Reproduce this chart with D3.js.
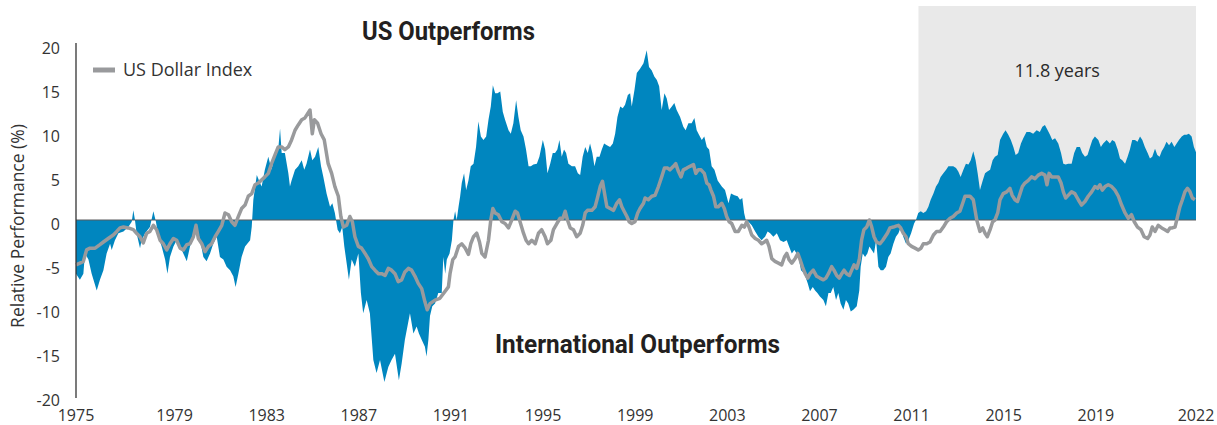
<!DOCTYPE html>
<html>
<head>
<meta charset="utf-8">
<script src="https://cdn.jsdelivr.net/npm/d3@7"></script>
<style>
  body { margin: 0; background: #fff; }
  svg { display: block; }
</style>
</head>
<body>
<svg id="chart" width="1217" height="425"></svg>
<script>
// ---- data ----
const yTicks = [-20, -15, -10, -5, 0, 5, 10, 15, 20];
const xTickYears = [1979, 1983, 1987, 1991, 1995, 1999, 2003, 2007, 2011, 2015, 2019];
const xEndLabels = ["1975", "2022"];

// US vs international relative performance (%), [year, value]
const relPerf = [
  [1974.72,-6.1],[1974.89,-6.8],[1975.04,-6.1],[1975.11,-3.8],[1975.26,-4.5],[1975.40,-6.1],[1975.62,-8.0],[1975.76,-6.8],[1975.91,-5.7],[1976.05,-3.8],
  [1976.20,-2.7],[1976.27,-3.4],[1976.41,-2.3],[1976.56,-1.5],[1976.78,-1.3],[1976.99,-0.8],[1977.14,-0.2],[1977.21,1.1],[1977.28,0],[1977.35,-1.5],
  [1977.50,-3.2],[1977.57,-2.3],[1977.72,-1.5],[1977.93,-0.8],[1978.08,1.0],[1978.19,-0.2],[1978.30,-1.9],[1978.44,-3.0],[1978.59,-4.5],[1978.69,-6.1],
  [1978.80,-4.2],[1978.95,-3.0],[1979.09,-2.3],[1979.24,-3.0],[1979.38,-3.8],[1979.53,-4.7],[1979.67,-3.0],[1979.82,-1.9],[1979.96,-0.8],[1980.11,-2.3],
  [1980.25,-4.2],[1980.39,-4.7],[1980.54,-3.8],[1980.68,-2.7],[1980.83,-1.9],[1980.97,-4.2],[1981.12,-4.5],[1981.26,-5.3],[1981.41,-5.7],[1981.55,-6.4],
  [1981.65,-7.6],[1981.77,-6.1],[1981.91,-4.2],[1982.06,-3.0],[1982.28,-2.3],[1982.35,-0.8],[1982.42,2.3],[1982.57,5.1],[1982.71,4.2],
  [1982.78,3.8],[1982.92,5.7],[1983.07,7.2],[1983.21,5.7],[1983.36,7.6],[1983.50,8.0],[1983.58,10.4],[1983.65,7.6],[1983.79,7.6],[1983.94,5.3],
  [1984.01,3.8],[1984.08,4.5],[1984.23,5.7],[1984.37,6.1],[1984.52,6.8],[1984.63,5.7],[1984.73,6.4],[1984.88,8.0],[1984.98,6.8],[1985.10,7.2],
  [1985.24,8.3],[1985.36,6.1],[1985.46,4.9],[1985.60,3.0],[1985.75,1.5],[1985.85,1.9],[1985.96,0.8],[1986.08,-1.1],[1986.18,-1.5],[1986.28,-0.8],
  [1986.37,-3.0],[1986.47,-4.9],[1986.57,-6.8],[1986.69,-4.5],[1986.83,-5.3],[1986.98,-3.8],[1987.09,-8.3],[1987.19,-10.6],[1987.34,-9.1],[1987.48,-10.6],
  [1987.63,-15.9],[1987.77,-17.4],[1987.92,-15.9],[1988.11,-18.4],[1988.28,-16.7],[1988.42,-15.9],[1988.57,-15.2],[1988.74,-18.2],[1988.86,-16.3],[1989.00,-13.6],
  [1989.22,-10.6],[1989.37,-12.9],[1989.51,-12.1],[1989.61,-12.9],[1989.73,-13.6],[1989.87,-14.4],[1989.94,-15.5],[1990.02,-13.6],[1990.09,-10.9],[1990.19,-9.8],
  [1990.31,-9.5],[1990.45,-8.3],
  [1990.60,-8.3],[1990.67,-4.2],[1990.75,-6.1],[1990.82,-4.5],[1990.94,-3.8],[1991.04,-2.3],[1991.11,0],[1991.18,1.0],[1991.25,0],[1991.33,1.5],
  [1991.40,2.7],[1991.47,4.2],[1991.57,5.3],[1991.66,3.4],[1991.76,4.5],[1991.86,6.1],[1991.98,6.4],[1992.09,8.3],[1992.19,11.2],[1992.30,9.5],
  [1992.41,9.1],[1992.53,9.5],[1992.63,11.4],[1992.73,12.9],[1992.82,15.3],[1992.92,14.4],[1993.02,14.4],[1993.14,14.6],[1993.25,12.3],[1993.35,11.4],
  [1993.50,10.2],[1993.60,9.8],[1993.71,11.0],[1993.83,13.6],[1993.93,11.7],[1994.03,10.2],[1994.15,9.5],[1994.26,8.0],[1994.37,6.1],[1994.47,6.1],
  [1994.58,6.3],[1994.73,6.4],[1994.84,7.2],[1994.99,9.1],[1995.09,8.0],[1995.19,5.3],[1995.31,6.4],[1995.42,7.6],[1995.52,7.6],[1995.62,8.0],
  [1995.71,9.1],[1995.81,7.2],[1995.91,8.0],[1996.00,7.6],[1996.10,6.4],[1996.25,6.1],[1996.39,6.1],[1996.51,5.3],[1996.61,5.1],[1996.72,7.2],
  [1996.83,8.3],[1996.94,7.6],[1997.04,8.7],[1997.14,7.6],[1997.23,6.1],[1997.33,7.2],[1997.45,7.2],[1997.55,8.0],[1997.65,8.7],[1997.77,8.5],
  [1997.91,8.3],[1998.03,8.7],[1998.13,9.8],[1998.23,11.7],[1998.35,12.9],[1998.46,12.7],[1998.56,13.1],[1998.66,14.0],
  [1998.68,14.2],[1998.78,14.4],[1998.85,12.9],[1998.97,14.8],[1999.07,16.7],[1999.21,17.2],[1999.36,17.8],[1999.50,19.3],[1999.60,17.4],[1999.72,17.0],
  [1999.83,16.3],[1999.94,15.9],[2000.04,15.2],[2000.15,12.5],[2000.27,14.4],[2000.37,13.8],[2000.47,12.5],[2000.59,12.9],[2000.70,13.3],[2000.80,12.5],
  [2000.95,11.7],[2001.09,10.6],[2001.19,10.2],[2001.31,11.0],[2001.45,11.0],[2001.57,11.6],[2001.67,10.2],[2001.77,9.7],[2001.89,9.1],[2002.00,9.5],
  [2002.11,8.3],[2002.21,8.0],[2002.32,6.1],[2002.44,5.7],[2002.58,4.5],[2002.76,3.8],[2002.90,3.4],[2003.05,1.9],[2003.16,3.0],[2003.31,2.8],
  [2003.45,2.7],[2003.55,2.3],[2003.65,2.5],[2003.73,0.8],[2003.80,0],[2003.92,-0.2],[2004.06,-0.6],[2004.21,-1.3],[2004.35,-1.9],[2004.49,-2.3],
  [2004.64,-1.9],[2004.75,-1.3],[2004.86,-1.5],[2005.00,-1.9],[2005.15,-1.5],[2005.29,-2.3],[2005.44,-2.5],[2005.58,-2.3],[2005.68,-3.0],[2005.80,-3.8],
  [2005.91,-3.4],[2006.01,-3.8],[2006.09,-4.2],[2006.20,-5.7],[2006.35,-6.1],[2006.49,-7.2],[2006.59,-8.1],
  [2006.71,-7.6],[2006.81,-8.0],[2006.91,-8.3],[2007.02,-8.7],[2007.17,-9.1],[2007.28,-9.8],[2007.39,-8.3],[2007.49,-8.3],[2007.60,-7.6],[2007.72,-9.1],
  [2007.82,-8.3],[2007.92,-9.5],[2008.04,-10.2],[2008.15,-9.1],[2008.25,-9.5],[2008.36,-10.4],[2008.47,-10.2],[2008.62,-9.8],[2008.73,-8.0],[2008.79,-5.3],
  [2008.88,-3.8],[2008.98,-4.2],[2009.08,-3.8],[2009.17,-3.0],[2009.27,-3.4],[2009.37,-3.8],[2009.46,-2.3],[2009.56,-5.3],[2009.66,-5.7],[2009.77,-5.7],
  [2009.89,-5.3],[2009.99,-4.2],[2010.09,-3.8],[2010.21,-2.7],[2010.32,-1.9],[2010.43,-1.5],[2010.53,-0.8],[2010.64,-1.9],[2010.76,-2.7],[2010.86,-2.3],
  [2010.98,-1.5],[2011.11,-0.4],[2011.19,0],[2011.29,0.8],[2011.40,1.0],[2011.51,0.8],[2011.63,1.0],[2011.73,1.5],[2011.83,2.3],[2011.95,3.0],
  [2012.06,3.8],[2012.16,4.2],[2012.26,4.9],[2012.38,5.3],[2012.50,5.7],[2012.60,6.1],[2012.70,6.1],[2012.81,6.1],[2012.93,5.9],[2013.03,5.5],
  [2013.13,4.9],[2013.25,5.7],[2013.36,6.4],[2013.47,6.3],[2013.57,6.8],[2013.68,7.8],[2013.78,6.8],[2013.87,5.3],[2013.97,3.4],[2014.09,4.5],
  [2014.19,5.3],[2014.29,5.5],[2014.41,5.7],[2014.52,6.8],[2014.62,7.2],
  [2014.74,7.4],[2014.84,9.1],[2014.98,9.8],[2015.08,10.2],[2015.20,9.7],[2015.31,9.1],[2015.42,8.3],[2015.52,7.4],[2015.63,7.6],[2015.75,8.7],
  [2015.85,9.3],[2015.99,10.0],[2016.14,10.0],[2016.28,9.8],[2016.43,10.2],[2016.57,10.0],[2016.68,10.6],[2016.79,10.8],[2016.91,10.2],[2017.01,9.7],
  [2017.11,9.1],[2017.23,9.3],[2017.37,8.7],[2017.49,7.6],[2017.59,6.4],[2017.69,6.3],[2017.80,6.4],[2017.95,6.4],[2018.06,7.6],[2018.17,8.3],
  [2018.31,8.3],[2018.41,7.6],[2018.53,7.2],[2018.64,7.4],[2018.75,8.3],[2018.85,9.1],[2018.96,9.5],[2019.11,9.1],[2019.22,8.3],[2019.32,8.7],
  [2019.47,9.1],[2019.61,8.7],[2019.71,9.1],[2019.83,8.9],[2019.95,8.0],[2020.05,7.0],[2020.15,6.8],[2020.27,6.4],[2020.38,7.2],[2020.48,8.0],
  [2020.58,9.1],[2020.70,9.1],[2020.81,8.9],[2020.92,9.5],[2021.02,9.1],[2021.13,8.3],[2021.25,7.6],[2021.35,7.0],[2021.45,7.2],[2021.57,8.1],
  [2021.67,7.4],[2021.77,7.2],[2021.86,7.8],[2021.97,8.3],[2022.07,8.9],[2022.18,8.5],[2022.29,8.9],[2022.41,8.3],[2022.51,8.7],[2022.61,9.1],
  [2022.73,9.5],[2022.84,9.7],[2022.94,9.7],[2023.04,9.8],[2023.16,9.5],[2023.26,8.3],[2023.35,7.7]
];

// US Dollar Index (relative, %), [year, value]
const dollarIndex = [
  [1974.72,-5.1],[1974.89,-4.9],[1975.04,-4.7],[1975.18,-3.4],[1975.33,-3.2],[1975.55,-3.2],[1975.76,-2.8],[1975.91,-2.5],[1976.12,-2.1],[1976.34,-1.7],
  [1976.49,-1.3],[1976.63,-0.9],[1976.78,-0.8],[1976.99,-0.9],[1977.21,-1.1],[1977.35,-1.5],[1977.50,-1.9],[1977.64,-2.6],[1977.79,-1.5],[1977.93,-1.3],
  [1978.08,-0.6],[1978.22,-1.1],[1978.37,-2.3],[1978.51,-2.7],[1978.66,-3.4],[1978.80,-2.7],[1978.95,-2.1],[1979.09,-2.3],[1979.24,-3.2],[1979.38,-3.4],
  [1979.53,-2.8],[1979.67,-2.7],[1979.82,-1.9],[1979.93,-0.6],[1980.03,-2.1],[1980.18,-2.7],[1980.32,-3.6],[1980.47,-3.0],[1980.61,-2.7],[1980.76,-1.9],
  [1980.90,-1.3],[1981.05,-0.6],[1981.19,0.8],[1981.34,0.6],[1981.48,-0.2],[1981.62,-0.6],[1981.77,0.4],[1981.91,1.3],[1982.06,1.7],[1982.20,2.7],
  [1982.35,3.0],[1982.49,4.0],[1982.64,4.2],
  [1982.92,4.9],[1983.07,5.3],[1983.21,6.4],[1983.36,7.4],[1983.50,8.3],[1983.65,8.3],[1983.79,8.0],[1983.94,8.3],[1984.08,9.1],[1984.23,10.2],
  [1984.37,10.8],[1984.52,11.4],[1984.66,11.6],[1984.88,12.5],[1984.98,9.8],[1985.07,11.4],[1985.21,11.0],[1985.36,9.8],[1985.50,9.1],[1985.67,6.4],
  [1985.82,5.3],[1985.96,3.8],[1986.11,2.7],[1986.22,0.4],[1986.33,-0.8],[1986.47,-0.6],[1986.61,0.4],[1986.72,-0.2],[1986.83,-1.9],[1986.98,-3.0],
  [1987.12,-3.2],[1987.27,-3.8],[1987.41,-4.4],[1987.56,-5.3],[1987.70,-5.7],[1987.85,-6.1],[1987.99,-6.1],[1988.14,-6.3],[1988.28,-5.5],[1988.42,-5.7],
  [1988.57,-6.1],[1988.71,-7.0],[1988.86,-6.8],[1989.00,-5.9],[1989.15,-5.5],[1989.29,-5.7],[1989.44,-6.4],[1989.58,-7.2],[1989.73,-7.8],[1989.87,-9.3],
  [1989.97,-10.2],[1990.09,-9.5],[1990.31,-9.1],[1990.52,-8.9],
  [1990.89,-7.6],[1990.96,-6.1],[1991.08,-4.5],[1991.18,-4.2],[1991.33,-3.0],[1991.47,-2.7],[1991.62,-3.2],[1991.76,-3.9],[1991.86,-2.7],[1991.98,-1.9],
  [1992.12,-1.5],[1992.24,-2.5],[1992.34,-3.8],[1992.48,-4.2],[1992.63,-2.3],[1992.73,0],[1992.82,1.3],[1992.92,0.8],[1993.06,0.6],[1993.21,-0.2],
  [1993.35,-0.4],[1993.50,-0.9],[1993.64,0],[1993.79,1.0],[1993.89,0.8],[1994.00,-0.2],[1994.15,-1.5],[1994.26,-2.3],[1994.37,-2.7],[1994.51,-2.3],
  [1994.66,-2.7],[1994.80,-1.5],[1994.94,-1.1],[1995.09,-1.9],[1995.19,-2.7],[1995.34,-2.3],[1995.45,-1.1],[1995.60,-0.4],[1995.74,0.2],[1995.86,0.2],
  [1995.96,1.0],[1996.06,0],[1996.18,-0.9],[1996.32,-1.1],[1996.46,-1.9],[1996.61,-1.5],[1996.72,-0.6],[1996.83,0.8],[1996.93,1.1],[1997.12,1.1],
  [1997.26,1.5],[1997.36,2.5],[1997.48,3.8],[1997.58,4.4],[1997.69,2.7],[1997.77,1.5],[1997.91,1.3],[1998.06,1.1],[1998.20,1.9],[1998.32,2.3],
  [1998.42,1.5],[1998.52,1.0],[1998.64,0.4],[1998.74,-0.2],
  [1998.85,-0.4],[1998.99,-0.2],[1999.11,0.8],[1999.21,1.3],[1999.36,1.9],[1999.43,2.5],[1999.57,2.3],[1999.72,2.7],[1999.86,2.8],[2000.01,3.8],
  [2000.15,4.9],[2000.27,5.9],[2000.41,5.9],[2000.51,5.7],[2000.66,6.1],[2000.76,6.4],[2000.88,5.5],[2000.99,4.9],[2001.09,5.7],[2001.24,5.9],
  [2001.38,6.1],[2001.53,6.3],[2001.63,5.3],[2001.74,5.7],[2001.86,5.7],[2002.00,5.3],[2002.11,4.2],[2002.21,4.0],[2002.29,3.4],[2002.40,2.7],
  [2002.50,1.5],[2002.61,1.5],[2002.76,1.9],[2002.87,1.3],[2002.97,0.4],[2003.08,-0.2],[2003.19,-0.4],[2003.34,-1.3],[2003.48,-1.3],[2003.63,-0.6],
  [2003.74,-0.8],[2003.84,-0.2],[2003.94,-0.8],[2004.06,-1.7],[2004.21,-2.1],[2004.35,-2.3],[2004.49,-2.7],[2004.61,-2.5],[2004.71,-2.3],[2004.81,-3.0],
  [2004.93,-4.4],[2005.07,-4.7],[2005.22,-4.9],[2005.36,-5.1],[2005.48,-4.2],[2005.58,-3.8],[2005.68,-4.5],[2005.80,-4.9],[2005.94,-4.4],[2006.06,-3.8],
  [2006.16,-4.5],[2006.26,-5.3],[2006.38,-6.1],[2006.49,-6.6],[2006.59,-6.1],
  [2006.73,-5.7],[2006.88,-6.4],[2007.02,-6.6],[2007.17,-6.8],[2007.28,-6.6],[2007.39,-6.1],[2007.53,-5.3],[2007.63,-5.7],[2007.75,-6.3],[2007.86,-6.6],
  [2007.97,-6.1],[2008.07,-5.7],[2008.18,-6.1],[2008.30,-6.3],[2008.40,-5.7],[2008.50,-5.1],[2008.62,-5.5],[2008.73,-4.5],[2008.83,-2.3],[2008.93,-1.1],
  [2009.05,-0.8],[2009.17,0],[2009.27,-0.8],[2009.37,-1.9],[2009.48,-2.5],[2009.63,-2.7],[2009.75,-2.3],[2009.85,-1.9],[2009.95,-1.5],[2010.06,-0.9],
  [2010.21,-0.8],[2010.32,-0.7],[2010.43,-0.6],[2010.53,-0.9],[2010.64,-1.5],[2010.76,-1.9],[2010.86,-2.7],[2011.00,-3.0],[2011.15,-3.2],[2011.29,-3.4],
  [2011.41,-3.2],[2011.51,-2.7],[2011.66,-2.7],[2011.80,-2.5],[2011.95,-1.7],[2012.09,-1.3],[2012.24,-1.3],[2012.38,-0.8],[2012.52,-0.2],[2012.67,0.2],
  [2012.81,0.4],[2012.96,0.8],[2013.10,1.0],[2013.22,1.9],[2013.32,2.7],[2013.42,2.7],[2013.54,2.7],[2013.68,2.3],[2013.83,0],[2013.97,-1.3],
  [2014.09,-0.9],[2014.19,-1.5],[2014.29,-1.9],[2014.41,-1.1],[2014.52,-0.2],[2014.62,0],
  [2014.74,0.8],[2014.84,2.3],[2014.98,3.0],[2015.13,3.2],[2015.27,3.6],[2015.37,2.8],[2015.49,2.3],[2015.60,2.1],[2015.71,3.0],[2015.81,3.8],
  [2015.92,4.2],[2016.07,4.5],[2016.21,4.9],[2016.36,4.7],[2016.50,5.1],[2016.65,5.3],[2016.79,5.1],[2016.88,4.0],[2016.97,5.3],[2017.08,4.9],
  [2017.23,4.9],[2017.37,4.9],[2017.49,4.2],[2017.59,3.2],[2017.69,2.5],[2017.80,2.8],[2017.95,3.2],[2018.09,3.0],[2018.24,2.3],[2018.38,1.7],
  [2018.53,2.1],[2018.67,2.7],[2018.82,3.2],[2018.96,3.8],[2019.08,3.6],[2019.18,4.0],[2019.28,3.4],[2019.40,3.8],[2019.54,4.0],[2019.69,3.8],
  [2019.83,3.4],[2019.98,2.7],[2020.12,1.7],[2020.27,0.8],[2020.41,0.2],[2020.55,0.6],[2020.67,-0.2],[2020.81,-0.8],[2020.96,-1.1],[2021.10,-1.9],
  [2021.25,-2.1],[2021.35,-1.7],[2021.45,-0.8],[2021.57,-1.3],[2021.71,-0.6],[2021.86,-0.9],[2022.00,-1.1],[2022.12,-1.3],[2022.22,-0.9],[2022.32,-0.9],
  [2022.44,-0.8],[2022.55,0.4],[2022.65,1.5],[2022.76,2.3],[2022.87,3.2],[2022.98,3.6],[2023.09,3.2],[2023.19,2.5],[2023.30,2.3]
];

// current US outperformance streak
const streakStart = 2011.3;
const streakLabel = "11.8 years";
const seriesName = "US Dollar Index";
const topLabel = "US Outperforms";
const bottomLabel = "International Outperforms";
const yTitle = "Relative Performance (%)";

// ---- setup ----
const svg = d3.select("#chart");
const tickFont = "'Open Sans', 'Noto Sans', sans-serif";
const headFont = "'Liberation Sans Narrow', 'Roboto', 'Liberation Sans', sans-serif";

const x = d3.scaleLinear()
    .domain(d3.extent(relPerf, d => d[0]))
    .range([76, 1196]);

const y = d3.scaleLinear()
    .domain([-20, 20])
    .range([396, 44]);

// shaded streak region
svg.append("rect")
    .attr("x", x(streakStart))
    .attr("y", 6)
    .attr("width", x.range()[1] - x(streakStart))
    .attr("height", y(0) - 6)
    .attr("fill", "#e9e9e9");

svg.append("text")
    .attr("x", (x(streakStart) + x.range()[1]) / 2)
    .attr("y", 77)
    .attr("text-anchor", "middle")
    .style("font-family", tickFont)
    .style("font-size", "18px")
    .style("fill", "#2b2b2b")
    .text(streakLabel);

// blue relative performance area
const area = d3.area()
    .x(d => x(d[0]))
    .y0(y(0))
    .y1(d => y(d[1]));

svg.append("path")
    .datum(relPerf)
    .attr("d", area)
    .attr("fill", "#0086bf");

// zero line
svg.append("line")
    .attr("x1", x.range()[0]).attr("x2", x.range()[1])
    .attr("y1", y(0)).attr("y2", y(0))
    .attr("stroke", "#5a5b5d")
    .attr("stroke-width", 1.2);

// dollar index line
const line = d3.line()
    .x(d => x(d[0]))
    .y(d => y(d[1]));

svg.append("path")
    .datum(dollarIndex)
    .attr("d", line)
    .attr("fill", "none")
    .attr("stroke", "#999a9c")
    .attr("stroke-width", 3.5)
    .attr("stroke-linejoin", "round");

// y axis
svg.append("line")
    .attr("x1", 76).attr("x2", 76)
    .attr("y1", y(20) - 1).attr("y2", y(-20) + 2)
    .attr("stroke", "#333")
    .attr("stroke-width", 1.3);

svg.append("g").selectAll("text")
    .data(yTicks)
    .join("text")
    .attr("x", 60)
    .attr("y", d => y(d) + 4)
    .attr("dy", "0.35em")
    .attr("text-anchor", "end")
    .style("font-family", tickFont)
    .style("font-size", "16px")
    .style("fill", "#333")
    .text(d => d);

svg.append("text")
    .attr("transform", `translate(24,${(y(20) + y(-20)) / 2 + 6}) rotate(-90)`)
    .attr("text-anchor", "middle")
    .style("font-family", tickFont)
    .style("font-size", "17.5px")
    .style("fill", "#333")
    .text(yTitle);

// x axis labels (first and last sit on the ends of the series)
const xLabels = [{ v: x.domain()[0], t: xEndLabels[0] }]
    .concat(xTickYears.map(v => ({ v: v, t: String(v) })))
    .concat([{ v: x.domain()[1], t: xEndLabels[1] }]);

svg.append("g").selectAll("text")
    .data(xLabels)
    .join("text")
    .attr("x", d => x(d.v))
    .attr("y", 421)
    .attr("text-anchor", "middle")
    .style("font-family", tickFont)
    .style("font-size", "16px")
    .style("fill", "#333")
    .text(d => d.t);

// legend
svg.append("line")
    .attr("x1", 93).attr("x2", 115)
    .attr("y1", 70).attr("y2", 70)
    .attr("stroke", "#999a9c")
    .attr("stroke-width", 5);

svg.append("text")
    .attr("x", 123)
    .attr("y", 76)
    .style("font-family", tickFont)
    .style("font-size", "18px")
    .style("fill", "#333")
    .text(seriesName);

// headline labels
svg.append("text")
    .attr("x", 362)
    .attr("y", 40)
    .attr("textLength", 173)
    .attr("lengthAdjust", "spacingAndGlyphs")
    .style("font-family", headFont)
    .style("font-weight", "bold")
    .style("font-size", "25px")
    .style("fill", "#231f20")
    .text(topLabel);

svg.append("text")
    .attr("x", 495)
    .attr("y", 353)
    .attr("textLength", 285)
    .attr("lengthAdjust", "spacingAndGlyphs")
    .style("font-family", headFont)
    .style("font-weight", "bold")
    .style("font-size", "25px")
    .style("fill", "#231f20")
    .text(bottomLabel);
</script>
</body>
</html>
